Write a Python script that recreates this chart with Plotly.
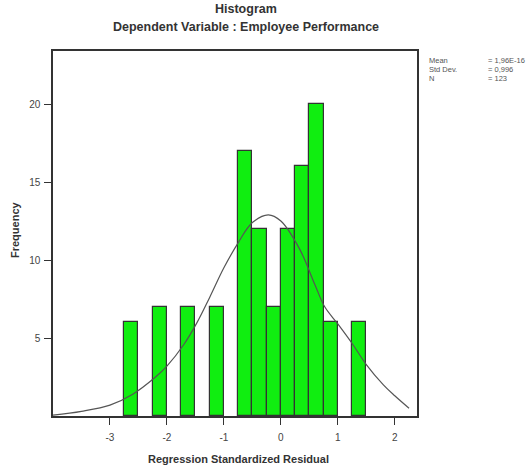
import plotly.graph_objects as go

# Histogram bins (centers of standardized residual bins) and frequencies
bin_centers = [-2.625, -2.125, -1.625, -1.125, -0.625, -0.375, -0.125, 0.125, 0.375, 0.625, 0.875, 1.375]
frequencies = [6, 7, 7, 7, 17, 12, 7, 12, 16, 20, 6, 6]
bin_width = 0.25

# Normal curve points
curve_x = [-4.0, -3.5, -3.0, -2.6, -2.2, -2.0, -1.7, -1.47, -1.25, -1.0, -0.75, -0.5,
           -0.22, 0.0, 0.33, 0.6, 0.77, 1.0, 1.26, 1.5, 1.8, 2.0, 2.25]
curve_y = [0.05, 0.3, 0.7, 1.4, 2.5, 3.2, 4.6, 6.0, 7.6, 9.5, 11.1, 12.4,
           12.9, 12.5, 10.7, 8.4, 7.0, 5.9, 4.6, 3.3, 2.0, 1.3, 0.5]

x_ticks = [-3, -2, -1, 0, 1, 2]
y_ticks = [5, 10, 15, 20]

stats_labels = ["Mean", "Std Dev.", "N"]
stats_values = ["= 1,96E-16", "= 0,996", "= 123"]

font_family = "Liberation Sans"

fig = go.Figure()
fig.add_trace(go.Bar(
    x=bin_centers, y=frequencies, width=[bin_width] * len(bin_centers),
    marker=dict(color="#10ee10", line=dict(color="#333333", width=1.2)),
    hoverinfo="x+y", showlegend=False,
))
fig.add_trace(go.Scatter(
    x=curve_x, y=curve_y, mode="lines",
    line=dict(color="#555555", width=1.2, shape="spline", smoothing=1.0),
    showlegend=False, hoverinfo="skip",
))

fig.update_layout(
    width=527, height=469,
    margin=dict(l=53, r=110, t=51, b=53),
    paper_bgcolor="white", plot_bgcolor="white",
    font=dict(family=font_family, size=10, color="#333333"),
    bargap=0,
    xaxis=dict(
        range=[-4.0, 2.39], tickvals=x_ticks, ticktext=[str(v) for v in x_ticks],
        showgrid=False, zeroline=False, showline=True, linecolor="#333333", linewidth=1.5,
        mirror=True, ticks="outside", ticklen=7, tickcolor="#333333", tickwidth=1.2,
        tickfont=dict(size=10, color="#444444"), ticklabelstandoff=4,
    ),
    yaxis=dict(
        range=[0, 23.4], tickvals=y_ticks, ticktext=[str(v) for v in y_ticks],
        showgrid=False, zeroline=False, showline=True, linecolor="#333333", linewidth=1.5,
        mirror=True, ticks="outside", ticklen=7, tickcolor="#333333", tickwidth=1.2,
        tickfont=dict(size=10, color="#444444"), ticklabelstandoff=2,
    ),
)

annotations = [
    dict(text="<b>Histogram</b>", x=246, y=469 - 9, font=dict(size=12.5, color="#333333")),
    dict(text="<b>Dependent Variable : Employee Performance</b>", x=246, y=469 - 27,
         font=dict(size=12.5, color="#333333")),
    dict(text="<b>Regression Standardized Residual</b>", x=238, y=469 - 459,
         font=dict(size=11, color="#333333")),
    dict(text="<b>Frequency</b>", x=15, y=469 - 230, textangle=-90,
         font=dict(size=11, color="#333333")),
]
for i, (lab, val) in enumerate(zip(stats_labels, stats_values)):
    yy = 469 - (60 + 9 * i)
    annotations.append(dict(text=lab, x=427, y=yy, xanchor="left", font=dict(size=7.5, color="#555555")))
    annotations.append(dict(text=val, x=486, y=yy, xanchor="left", font=dict(size=7.5, color="#555555")))

for a in annotations:
    a.setdefault("xanchor", "center")
    a.update(xref="paper", yref="paper", showarrow=False, yanchor="middle")
    a["x"] = (a["x"] - 53) / (527 - 53 - 110)
    a["y"] = (a["y"] - 53) / (469 - 53 - 51)
fig.update_layout(annotations=annotations)

fig.write_html("out.html")
